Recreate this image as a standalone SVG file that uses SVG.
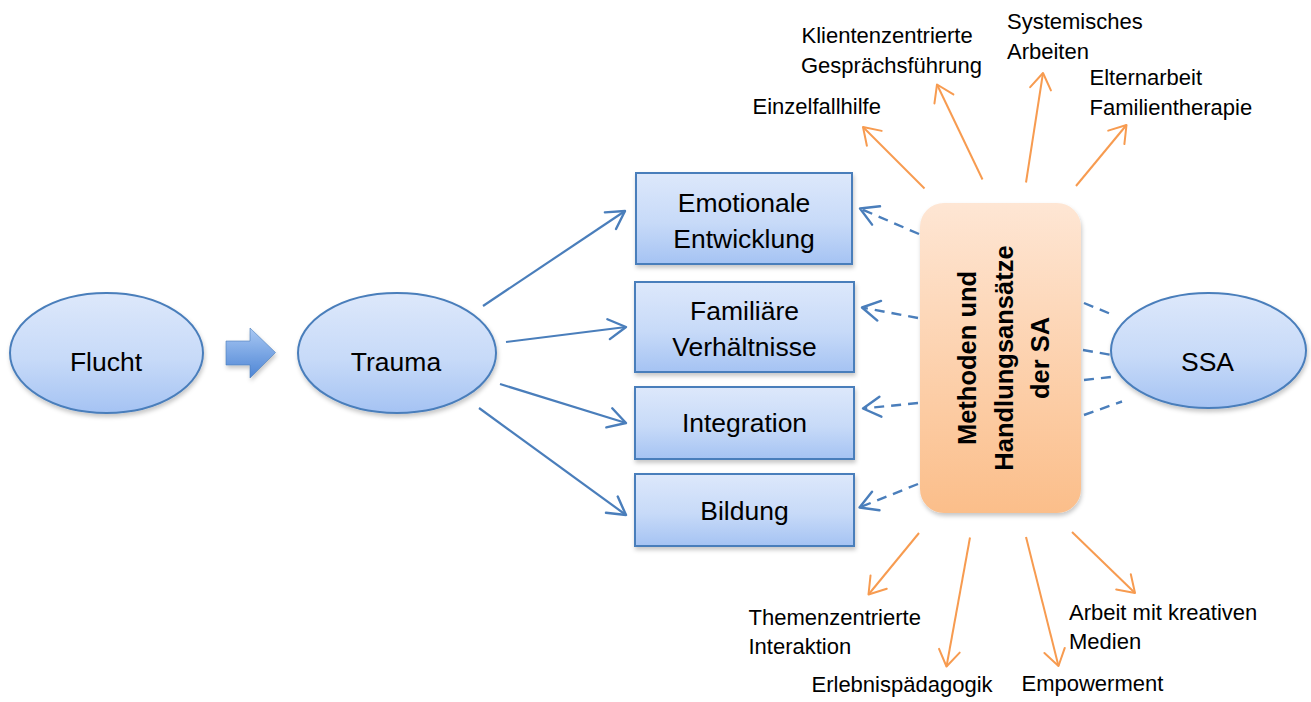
<svg xmlns="http://www.w3.org/2000/svg" width="1311" height="702" viewBox="0 0 1311 702">
<style>
text{font-family:"Liberation Sans",Arial,sans-serif;fill:#000}
.n{font-size:26.5px;text-anchor:middle}
.l{font-size:22px}
.m{font-size:25.5px;font-weight:bold;text-anchor:middle}
.blue{fill:url(#gBlue);stroke:#4a7ebb;stroke-width:2;filter:url(#sh)}
.ba{fill:none;stroke:#4a7ebb;stroke-width:2.2;marker-end:url(#aB)}
.bd{fill:none;stroke:#4a7ebb;stroke-width:2.4;stroke-dasharray:10 7}
.bda{fill:none;stroke:#4a7ebb;stroke-width:2.4;stroke-dasharray:10 7;marker-end:url(#aB)}
.oa{fill:none;stroke:#f79b50;stroke-width:2;marker-end:url(#aO)}
</style>
<defs>
<linearGradient id="gBlue" x1="0" y1="0" x2="0" y2="1">
<stop offset="0" stop-color="#dde8fb"/>
<stop offset="0.55" stop-color="#c7daf8"/>
<stop offset="1" stop-color="#a5c3f3"/>
</linearGradient>
<linearGradient id="gOr" x1="0" y1="0" x2="0" y2="1">
<stop offset="0" stop-color="#fee6d4"/>
<stop offset="1" stop-color="#fbbe8a"/>
</linearGradient>
<linearGradient id="gArr" x1="0" y1="0" x2="0" y2="1">
<stop offset="0" stop-color="#a9c8f3"/>
<stop offset="1" stop-color="#4d85d5"/>
</linearGradient>
<filter id="sh" x="-10%" y="-10%" width="125%" height="130%">
<feDropShadow dx="1" dy="3" stdDeviation="2" flood-color="#000" flood-opacity="0.22"/>
</filter>
<marker id="aB" markerUnits="userSpaceOnUse" markerWidth="30" markerHeight="30" viewBox="-22 -15 30 30" refX="0" refY="0" orient="auto" overflow="visible">
<path d="M-17.5,-10 L0,0 L-17.5,10" fill="none" stroke="#4a7ebb" stroke-width="2.4" stroke-dasharray="none" stroke-linecap="round" stroke-linejoin="round"/>
</marker>
<marker id="aO" markerUnits="userSpaceOnUse" markerWidth="30" markerHeight="30" viewBox="-22 -15 30 30" refX="0" refY="0" orient="auto" overflow="visible">
<path d="M-16,-10.5 L0,0 L-16,10.5" fill="none" stroke="#f79b50" stroke-width="2" stroke-linecap="round" stroke-linejoin="round"/>
</marker>
</defs>

<g id="connectors">
<path class="ba" d="M483,306 L625,211"/>
<path class="ba" d="M506,342 L626,327"/>
<path class="ba" d="M500,384 L626,423"/>
<path class="ba" d="M479,408 L626,515"/>
<path class="bda" d="M919,234 L860,208.5"/>
<path class="bda" d="M918,318 L862,307.5"/>
<path class="bda" d="M918,403 L863,408.5"/>
<path class="bda" d="M918,484 L859.5,507.5"/>
<path class="bd" d="M1084,303 L1112,314.5"/>
<path class="bd" d="M1083,350 L1112,355"/>
<path class="bd" d="M1084,380 L1111,377"/>
<path class="bd" d="M1084,415 L1122,401.5"/>
<path class="oa" d="M924.5,188.5 L863,127"/>
<path class="oa" d="M982.5,179.5 L937,84.5"/>
<path class="oa" d="M1026,182.5 L1043,73"/>
<path class="oa" d="M1076,186 L1126.5,125"/>
<path class="oa" d="M919,533 L868.5,594.5"/>
<path class="oa" d="M970,537.5 L946.5,666.5"/>
<path class="oa" d="M1026,537 L1058.5,666"/>
<path class="oa" d="M1072,532 L1135,593"/>
</g>

<g id="flucht">
<ellipse class="blue" cx="106.5" cy="353" rx="96.5" ry="60"/>
<text class="n" x="106" y="371">Flucht</text>
</g>
<g id="blockarrow">
<path d="M226,341 L250,341 L250,328 L275.5,352.5 L250,378 L250,365 L226,365 Z" fill="url(#gArr)" stroke="#4a7ebb" stroke-width="0.6" filter="url(#sh)"/>
</g>
<g id="trauma">
<ellipse class="blue" cx="397" cy="353" rx="99" ry="60"/>
<text class="n" x="396" y="371">Trauma</text>
</g>
<g id="emotionale">
<rect class="blue" x="636" y="173" width="216" height="91"/>
<text class="n" x="744" y="212">Emotionale</text>
<text class="n" x="744" y="248">Entwicklung</text>
</g>
<g id="familiaere">
<rect class="blue" x="635" y="282" width="219" height="90"/>
<text class="n" x="744.5" y="320">Familiäre</text>
<text class="n" x="744.5" y="356">Verhältnisse</text>
</g>
<g id="integration">
<rect class="blue" x="635" y="387" width="219" height="72"/>
<text class="n" x="744.5" y="432">Integration</text>
</g>
<g id="bildung">
<rect class="blue" x="635" y="474" width="219" height="72"/>
<text class="n" x="744.5" y="520">Bildung</text>
</g>
<g id="methoden">
<rect x="920" y="203" width="161" height="310" rx="24" ry="24" fill="url(#gOr)" filter="url(#sh)"/>
<text class="m" transform="translate(976,358) rotate(-90)"><tspan x="0" y="0">Methoden und</tspan><tspan x="0" y="36.5">Handlungsansätze</tspan><tspan x="0" y="73">der SA</tspan></text>
</g>
<g id="ssa">
<ellipse class="blue" cx="1208.5" cy="350.5" rx="97.5" ry="57.5"/>
<text class="n" x="1207.5" y="371">SSA</text>
</g>

<g id="labels">
<g id="einzelfallhilfe"><text class="l" x="752.5" y="114">Einzelfallhilfe</text></g>
<g id="klientenzentrierte"><text class="l" x="801.5" y="43">Klientenzentrierte</text><text class="l" x="801" y="72.5">Gesprächsführung</text></g>
<g id="systemisches"><text class="l" x="1007" y="28.5">Systemisches</text><text class="l" x="1007" y="58.5">Arbeiten</text></g>
<g id="elternarbeit"><text class="l" x="1089.5" y="85">Elternarbeit</text><text class="l" x="1089.5" y="114.5">Familientherapie</text></g>
<g id="themenzentrierte"><text class="l" x="748.5" y="625">Themenzentrierte</text><text class="l" x="748.5" y="654">Interaktion</text></g>
<g id="erlebnis"><text class="l" x="811.5" y="692">Erlebnispädagogik</text></g>
<g id="empowerment"><text class="l" x="1021.5" y="691">Empowerment</text></g>
<g id="kreativ"><text class="l" x="1069" y="619.5">Arbeit mit kreativen</text><text class="l" x="1069" y="648.5">Medien</text></g>
</g>
</svg>
